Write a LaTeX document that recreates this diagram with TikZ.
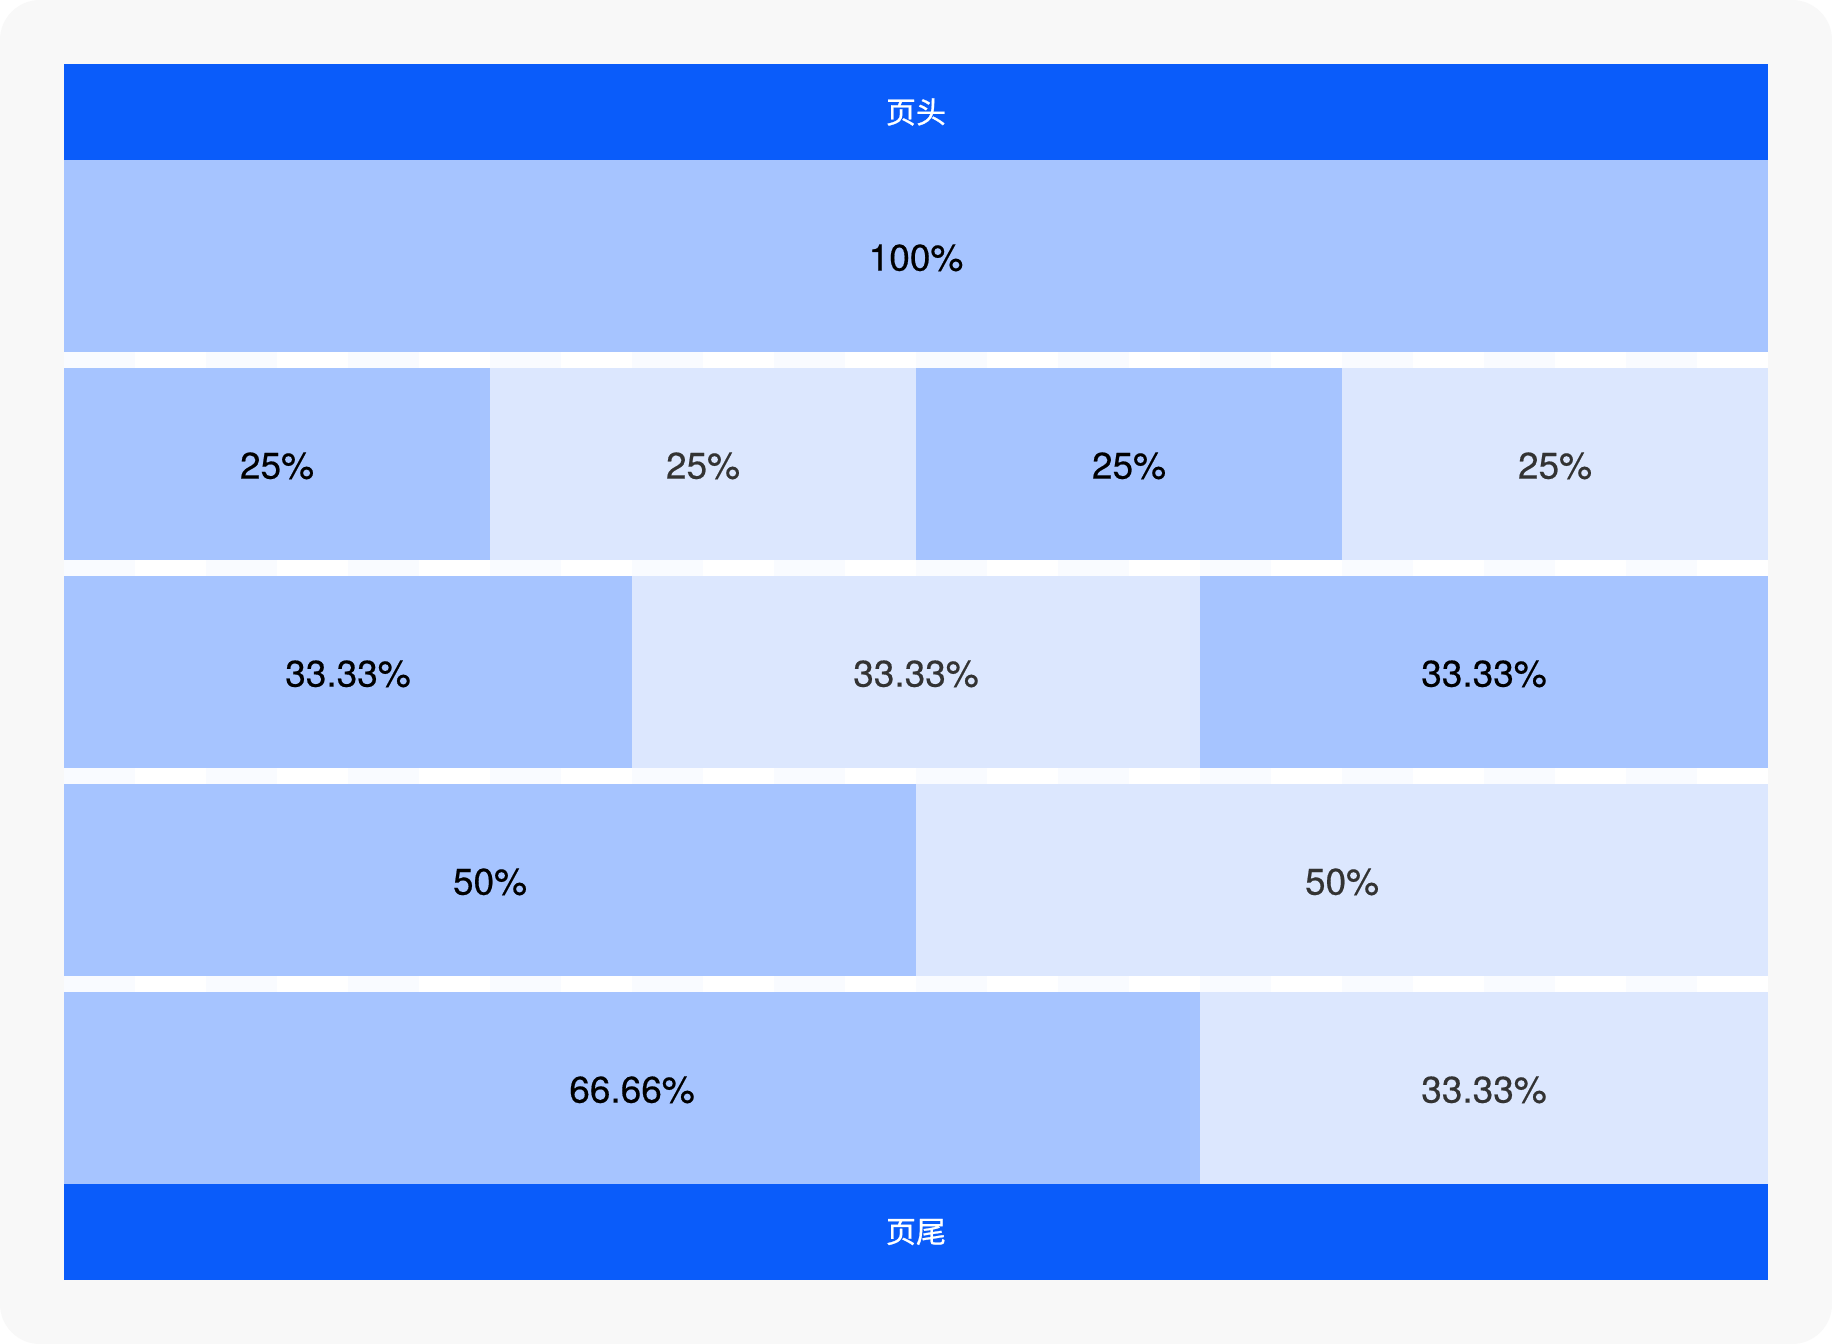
\documentclass[tikz,border=0pt]{standalone}
\usepackage{fontspec}
\setmainfont{TeX Gyre Heros}[FakeBold=0.4]
\newfontfamily\cjk{Noto Sans CJK SC}[FakeBold=0.8]
\definecolor{pagebg}{HTML}{F8F8F8}
\definecolor{stripec}{HTML}{F9FBFF}
\definecolor{headc}{HTML}{0A5CFA}
\definecolor{darkc}{HTML}{A6C4FF}
\definecolor{lightc}{HTML}{DCE7FE}
\definecolor{lighttext}{HTML}{333333}
\begin{document}
\begin{tikzpicture}[x=1pt,y=-1pt,
  cell/.style={inner sep=0pt, outer sep=0pt, minimum height=192pt, text depth=0pt, font=\fontsize{37}{40}\selectfont},
  darkcell/.style={cell, fill=darkc, text=black},
  lightcell/.style={cell, fill=lightc, text=lighttext},
  bar/.style={inner sep=0pt, outer sep=0pt, fill=headc, text=white, minimum width=1704pt, minimum height=96pt, font=\cjk\fontsize{30}{34}\selectfont}]
\useasboundingbox (0,0) rectangle (1832,1344);
\fill[white] (0,0) rectangle (1832,1344);
\fill[pagebg, rounded corners=40pt] (0,0) rectangle (1832,1344);
\fill[white] (64,160) rectangle (1768,1184);
\foreach \i in {0,2,...,22} \fill[stripec] ({64+71*\i},160) rectangle ({135+71*\i},1184);
% header and footer
\node[bar] (head) at (916,112) {页头};
\node[bar] (foot) at (916,1232) {页尾};
% row 1
\node[darkcell, minimum width=1704pt] (r1a) at (916,256) {\raisebox{-3pt}{100\%}};
% row 2
\node[darkcell, minimum width=426pt] (r2a) at (277,464) {\raisebox{-3pt}{25\%}};
\node[lightcell, minimum width=426pt] (r2b) at (703,464) {\raisebox{-3pt}{25\%}};
\node[darkcell, minimum width=426pt] (r2c) at (1129,464) {\raisebox{-3pt}{25\%}};
\node[lightcell, minimum width=426pt] (r2d) at (1555,464) {\raisebox{-3pt}{25\%}};
% row 3
\node[darkcell, minimum width=568pt] (r3a) at (348,672) {\raisebox{-3pt}{33.33\%}};
\node[lightcell, minimum width=568pt] (r3b) at (916,672) {\raisebox{-3pt}{33.33\%}};
\node[darkcell, minimum width=568pt] (r3c) at (1484,672) {\raisebox{-3pt}{33.33\%}};
% row 4
\node[darkcell, minimum width=852pt] (r4a) at (490,880) {\raisebox{-3pt}{50\%}};
\node[lightcell, minimum width=852pt] (r4b) at (1342,880) {\raisebox{-3pt}{50\%}};
% row 5
\node[darkcell, minimum width=1136pt] (r5a) at (632,1088) {\raisebox{-3pt}{66.66\%}};
\node[lightcell, minimum width=568pt] (r5b) at (1484,1088) {\raisebox{-3pt}{33.33\%}};
\end{tikzpicture}
\end{document}
